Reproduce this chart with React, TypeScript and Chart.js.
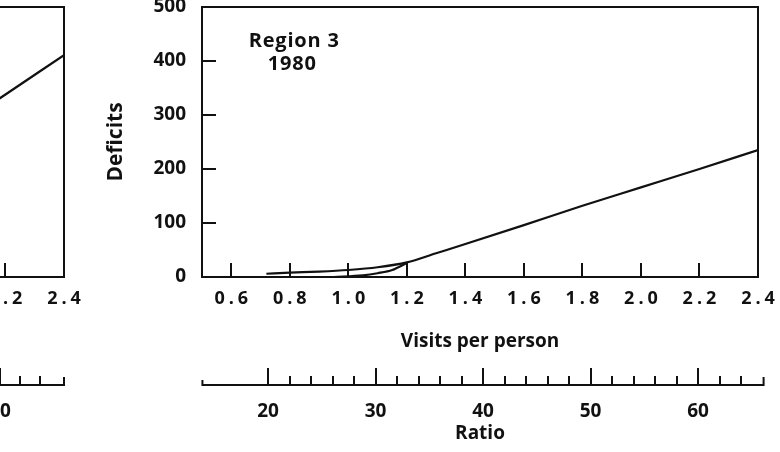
import { useEffect, useRef } from 'react';
import { Chart, registerables, LinearScale } from 'chart.js';

Chart.register(...registerables);

// ---- data ---------------------------------------------------------------

// Visits per person (bottom axis) and deficits (left axis)
const VISIT_TICKS = [0.6, 0.8, 1.0, 1.2, 1.4, 1.6, 1.8, 2.0, 2.2, 2.4];
const VISIT_RANGE = [0.5, 2.4];
const DEFICIT_TICKS = [0, 100, 200, 300, 400, 500];
const DEFICIT_RANGE = [0, 500];

// Region 3, 1980: upper deficit curve
const R3_UPPER_X = [0.72, 0.8, 0.9, 1.0, 1.1, 1.2, 1.3, 1.4, 1.6, 1.8, 2.0, 2.2, 2.4];
const R3_UPPER_Y = [6, 8, 10, 13, 18, 27, 44, 61, 96, 132, 166, 200, 235];
// Region 3, 1980: lower branch that joins at 1.2
const R3_LOWER_X = [0.95, 1.05, 1.1, 1.15, 1.2];
const R3_LOWER_Y = [0, 3, 7, 13, 26];

// Neighbouring panel (its right-hand end)
const R2_X = [1.8, 2.0, 2.2, 2.4];
const R2_Y = [195, 265, 338, 411];

// Ratio scale under each panel
const R3_RATIO_LABELS = [20, 30, 40, 50, 60];
const R3_RATIO_MINOR = [22, 24, 26, 28, 32, 34, 36, 38, 42, 44, 46, 48, 52, 54, 56, 58, 62, 64];
const R3_RATIO_SPAN = [13.9, 66.1];
const R3_RATIO_RANGE = [13.86, 65.58];

const R2_RATIO_LABELS = [20, 30, 40, 50, 60];
const R2_RATIO_MINOR = [22, 24, 26, 28, 32, 34, 36, 38, 42, 44, 46, 48, 52, 54, 56, 58, 62, 64];
const R2_RATIO_SPAN = [12, 66.4];
const R2_RATIO_RANGE = [10.8, 66.4];

const R3_NOTE = ['Region 3', '1980'];

// ---- styling ------------------------------------------------------------

const INK = '#111111';
const FAMILY = '"Open Sans", Lato, "DejaVu Sans", sans-serif';
const TICK_SPACING = 4; // letter spacing of the visits tick labels

// Linear scale whose tick labels are drawn letter-spaced
class SpacedLinearScale extends LinearScale {
  static id = 'spacedLinear';
  static defaults = LinearScale.defaults;
  drawLabels(chartArea: any) {
    const ctx: any = this.ctx;
    ctx.save();
    ctx.letterSpacing = TICK_SPACING + 'px';
    ctx.translate(TICK_SPACING / 2, 0);
    super.drawLabels(chartArea);
    ctx.restore();
  }
}
Chart.register(SpacedLinearScale);

// Box, inward tick marks, the ratio scale line and the panel note
const framePlugin = {
  id: 'frame',
  afterDatasetsDraw(chart: any, _args: any, opts: any) {
    const { ctx, chartArea: a, scales } = chart;
    const x = scales.x;
    const y = scales.y;
    const r = scales.ratio;
    ctx.save();
    ctx.strokeStyle = INK;
    ctx.lineWidth = 2;
    ctx.lineCap = 'square';

    ctx.beginPath();
    ctx.rect(a.left, a.top, a.right - a.left, a.bottom - a.top);
    ctx.stroke();

    ctx.beginPath();
    x.ticks.forEach((t: any) => {
      const px = Math.round(x.getPixelForValue(t.value));
      if (px < a.right - 2) {
        ctx.moveTo(px, a.bottom);
        ctx.lineTo(px, a.bottom - 13);
      }
    });
    y.ticks.forEach((t: any) => {
      const py = Math.round(y.getPixelForValue(t.value));
      if (py > a.top + 2 && py < a.bottom - 2) {
        ctx.moveTo(a.left, py);
        ctx.lineTo(a.left + 13, py);
      }
    });
    ctx.stroke();

    // ratio scale
    const ry = r.top + 28;
    const [s0, s1] = opts.span;
    const p0 = r.getPixelForValue(s0);
    const p1 = r.getPixelForValue(s1);
    ctx.beginPath();
    ctx.moveTo(p0, ry);
    ctx.lineTo(p1, ry);
    ctx.moveTo(p0, ry);
    ctx.lineTo(p0, ry - 4);
    ctx.moveTo(p1, ry);
    ctx.lineTo(p1, ry - 7);
    r.ticks.forEach((t: any) => {
      const px = Math.round(r.getPixelForValue(t.value));
      ctx.moveTo(px, ry);
      ctx.lineTo(px, ry - 16);
    });
    opts.minor.forEach((v: number) => {
      const px = Math.round(r.getPixelForValue(v));
      ctx.moveTo(px, ry);
      ctx.lineTo(px, ry - 8);
    });
    ctx.stroke();

    if (opts.note && opts.note.length) {
      ctx.fillStyle = INK;
      ctx.font = 'bold 20px ' + FAMILY;
      ctx.textAlign = 'center';
      ctx.textBaseline = 'middle';
      ctx.letterSpacing = '0.8px';
      const nx = x.getPixelForValue(0.815);
      ctx.fillText(opts.note[0], nx, y.getPixelForValue(436));
      ctx.fillText(opts.note[1], nx - 2, y.getPixelForValue(393));
    }
    ctx.restore();
  },
};

type PanelSpec = {
  lines: { xs: number[]; ys: number[] }[];
  ratioLabels: number[];
  ratioMinor: number[];
  ratioSpan: number[];
  ratioRange: number[];
  note: string[];
};

function buildConfig(spec: PanelSpec): any {
  const font = (size: number) => ({ family: FAMILY, size, weight: 'bold' as const, lineHeight: 1.2 });
  return {
    type: 'line',
    data: {
      datasets: spec.lines.map((l) => ({
        data: l.xs.map((v, i) => ({ x: v, y: l.ys[i] })),
        borderColor: INK,
        borderWidth: 2.2,
        pointRadius: 0,
        fill: false,
        cubicInterpolationMode: 'monotone',
      })),
    },
    options: {
      animation: false,
      responsive: false,
      devicePixelRatio: 1,
      events: [],
      layout: { padding: { left: 99, top: 7, right: 22, bottom: 7 } },
      plugins: {
        legend: { display: false },
        tooltip: { enabled: false },
        frame: {
          span: spec.ratioSpan,
          minor: spec.ratioMinor,
          note: spec.note,
        },
      },
      scales: {
        x: {
          type: 'spacedLinear',
          position: 'bottom',
          weight: 0,
          min: VISIT_RANGE[0],
          max: VISIT_RANGE[1],
          afterBuildTicks: (s: any) => {
            s.ticks = VISIT_TICKS.map((v) => ({ value: v }));
          },
          afterFit: (s: any) => {
            s.height = 80;
            s.paddingLeft = 0;
            s.paddingRight = 0;
          },
          grid: { display: false, drawTicks: false },
          border: { display: false },
          ticks: {
            color: INK,
            font: font(18),
            padding: 11,
            maxRotation: 0,
            autoSkip: false,
            callback: (v: any) => Number(v).toFixed(1),
          },
          title: {
            display: true,
            text: 'Visits per person',
            color: INK,
            font: font(19),
            padding: { top: 0, bottom: 4 },
          },
        },
        ratio: {
          type: 'linear',
          axis: 'x',
          position: 'bottom',
          weight: 1,
          min: spec.ratioRange[0],
          max: spec.ratioRange[1],
          afterBuildTicks: (s: any) => {
            s.ticks = spec.ratioLabels.map((v) => ({ value: v }));
          },
          afterFit: (s: any) => {
            s.height = 88;
            s.paddingLeft = 0;
            s.paddingRight = 0;
          },
          grid: { display: false, drawTicks: false },
          border: { display: false },
          ticks: {
            color: INK,
            font: font(19),
            padding: 43,
            maxRotation: 0,
            autoSkip: false,
          },
          title: {
            display: true,
            text: 'Ratio',
            color: INK,
            font: font(19),
            padding: { top: 0, bottom: 0 },
          },
        },
        y: {
          type: 'linear',
          position: 'left',
          min: DEFICIT_RANGE[0],
          max: DEFICIT_RANGE[1],
          afterBuildTicks: (s: any) => {
            s.ticks = DEFICIT_TICKS.map((v) => ({ value: v }));
          },
          afterFit: (s: any) => {
            s.width = 103;
            s.paddingTop = 0;
            s.paddingBottom = 0;
          },
          grid: { display: false, drawTicks: false },
          border: { display: false },
          ticks: {
            color: INK,
            font: font(19),
            padding: 16,
            autoSkip: false,
          },
          title: {
            display: true,
            text: 'Deficits',
            color: INK,
            font: font(21),
            padding: { top: 4, bottom: 0 },
          },
        },
      },
    },
    plugins: [framePlugin],
  };
}

function Panel({ spec, left }: { spec: PanelSpec; left: number }) {
  const ref = useRef<HTMLCanvasElement | null>(null);
  useEffect(() => {
    if (!ref.current) return;
    const chart = new Chart(ref.current, buildConfig(spec));
    return () => chart.destroy();
  }, [spec]);
  return (
    <canvas
      ref={ref}
      width={780}
      height={452}
      style={{ position: 'absolute', left, top: 0, width: 780, height: 452 }}
    />
  );
}

const REGION2: PanelSpec = {
  lines: [{ xs: R2_X, ys: R2_Y }],
  ratioLabels: R2_RATIO_LABELS,
  ratioMinor: R2_RATIO_MINOR,
  ratioSpan: R2_RATIO_SPAN,
  ratioRange: R2_RATIO_RANGE,
  note: [],
};

const REGION3: PanelSpec = {
  lines: [
    { xs: R3_UPPER_X, ys: R3_UPPER_Y },
    { xs: R3_LOWER_X, ys: R3_LOWER_Y },
  ],
  ratioLabels: R3_RATIO_LABELS,
  ratioMinor: R3_RATIO_MINOR,
  ratioSpan: R3_RATIO_SPAN,
  ratioRange: R3_RATIO_RANGE,
  note: R3_NOTE,
};

export default function App() {
  return (
    <div
      style={{
        position: 'fixed',
        left: 0,
        top: 0,
        width: 780,
        height: 452,
        overflow: 'hidden',
        background: '#ffffff',
      }}
    >
      <Panel spec={REGION2} left={-694} />
      <Panel spec={REGION3} left={0} />
    </div>
  );
}
